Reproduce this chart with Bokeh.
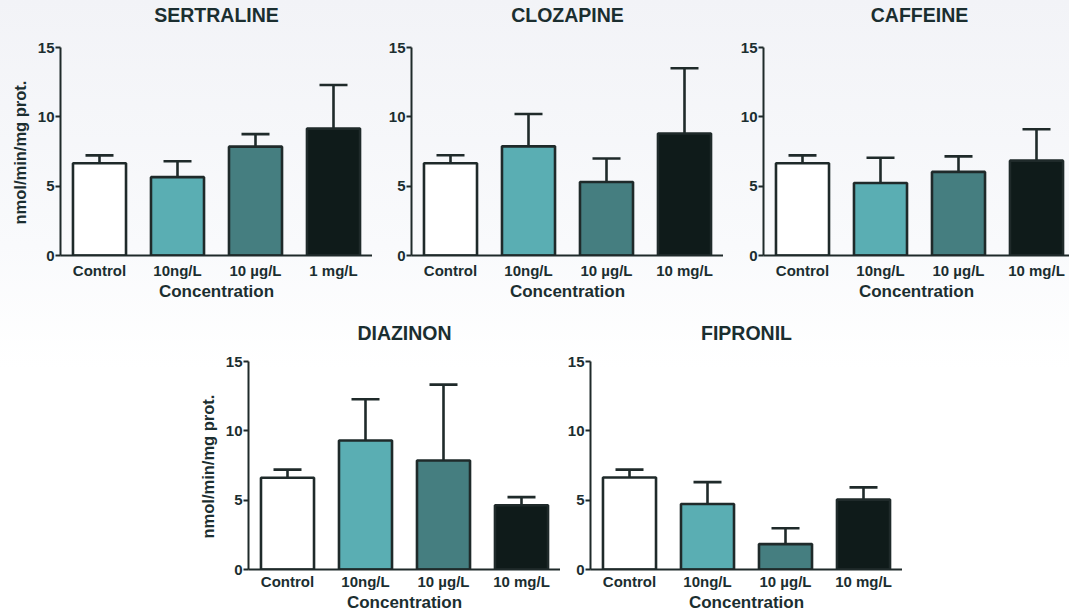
import numpy as np
from bokeh.plotting import figure
from bokeh.layouts import column, row, Spacer
from bokeh.models import (Range1d, FixedTicker, ColumnDataSource, Whisker,
                          TeeHead, Label, Title)
from bokeh.embed import file_html
from bokeh.resources import INLINE

# ---------------- data ----------------
y_label = "nmol/min/mg prot."
x_label = "Concentration"

sertraline_labels = ["Control", "10ng/L", "10 µg/L", "1 mg/L"]
other_labels = ["Control", "10ng/L", "10 µg/L", "10 mg/L"]

sertraline_mean = [6.65, 5.65, 7.85, 9.15]
sertraline_upper = [7.22, 6.80, 8.75, 12.30]
clozapine_mean = [6.65, 7.87, 5.30, 8.80]
clozapine_upper = [7.23, 10.20, 7.00, 13.50]
caffeine_mean = [6.65, 5.23, 6.03, 6.84]
caffeine_upper = [7.22, 7.05, 7.15, 9.10]
diazinon_mean = [6.62, 9.30, 7.86, 4.63]
diazinon_upper = [7.20, 12.28, 13.33, 5.22]
fipronil_mean = [6.63, 4.72, 1.83, 5.04]
fipronil_upper = [7.20, 6.30, 2.98, 5.92]

y_ticks = [0, 5, 10, 15]
bar_colors = ["#ffffff", "#5aaeb3", "#457e80", "#0f1b1a"]

TEXT = "#1b2e30"
LINE = "#1f2a2a"
FONT = "Liberation Sans"
CAT_PX = 78    # pixels per category
AXIS_PX = 208  # pixels from 0 to 15 on the value axis


def panel(title, labels, mean, upper, frame_w, min_left, height,
          min_bottom, show_ylabel, label_standoff, title_gap):
    n = len(labels)
    xs = list(range(1, n + 1))
    frame_h = height - min_bottom
    y_max = y_ticks[-1]
    p = figure(width=min_left + frame_w, height=height,
               x_range=Range1d(0.5, 0.5 + frame_w / CAT_PX),
               y_range=Range1d(0, y_max * frame_h / AXIS_PX),
               output_backend="svg", toolbar_location=None,
               min_border_left=min_left, min_border_right=0,
               min_border_top=0, min_border_bottom=min_bottom,
               background_fill_color=None, border_fill_color=None,
               outline_line_color=None)
    src = ColumnDataSource(dict(x=xs, mean=mean, upper=upper, color=bar_colors[:n]))
    p.vbar(x="x", top="mean", bottom=0, width=0.68, source=src,
           fill_color="color", line_color=LINE, line_width=2.6)
    w = Whisker(base="x", lower="mean", upper="upper", source=src,
                line_color=LINE, line_width=2.6, level="glyph",
                upper_head=TeeHead(size=28, line_color=LINE, line_width=2.6),
                lower_head=None)
    p.add_layout(w)

    # panel title, centred over the categories, floated above the axis top
    p.add_layout(Label(x=(xs[0] + xs[-1]) / 2, y=y_max, y_offset=title_gap,
                       text=title, text_align="center", text_baseline="middle",
                       text_font=FONT, text_font_size="19.5px",
                       text_font_style="bold", text_color=TEXT))

    p.xgrid.visible = False
    p.ygrid.visible = False

    xa = p.xaxis[0]
    xa.ticker = FixedTicker(ticks=xs)
    xa.major_label_overrides = {x: lab for x, lab in zip(xs, labels)}
    xa.major_tick_line_color = None
    xa.major_tick_out = 0
    xa.major_tick_in = 0
    xa.minor_tick_line_color = None
    xa.minor_tick_out = 0
    xa.axis_line_width = 2
    xa.axis_line_color = LINE
    xa.major_label_standoff = label_standoff
    xa.major_label_text_font = FONT
    xa.major_label_text_font_size = "15px"
    xa.major_label_text_font_style = "bold"
    xa.major_label_text_color = TEXT
    xa.axis_label = x_label
    xa.axis_label_standoff = 0
    xa.axis_label_text_font = FONT
    xa.axis_label_text_font_size = "17px"
    xa.axis_label_text_font_style = "bold"
    xa.axis_label_text_color = TEXT

    ya = p.yaxis[0]
    ya.ticker = FixedTicker(ticks=y_ticks)
    ya.bounds = (y_ticks[0], y_max)
    ya.minor_tick_line_color = None
    ya.major_tick_in = 0
    ya.major_tick_out = 5
    ya.major_tick_line_width = 2
    ya.major_tick_line_color = LINE
    ya.axis_line_width = 2
    ya.axis_line_color = LINE
    ya.major_label_standoff = 1
    ya.major_label_text_font = FONT
    ya.major_label_text_font_size = "15px"
    ya.major_label_text_font_style = "bold"
    ya.major_label_text_color = TEXT
    if show_ylabel:
        # value-axis title, centred on the 0-15 span of the axis
        p.add_layout(Title(text=y_label, align="left", offset=31, standoff=12,
                           text_font=FONT, text_font_size="16.5px",
                           text_font_style="bold", text_color=TEXT), "left")
    return p


p1 = panel("SERTRALINE", sertraline_labels, sertraline_mean, sertraline_upper,
           312, 60, 303, 48, True, 6, 33)
p2 = panel("CLOZAPINE", other_labels, clozapine_mean, clozapine_upper,
           312, 39, 303, 48, False, 6, 33)
p3 = panel("CAFFEINE", other_labels, caffeine_mean, caffeine_upper,
           306, 40, 303, 48, False, 6, 33)
p4 = panel("DIAZINON", other_labels, diazinon_mean, diazinon_upper,
           312, 60, 311, 45, True, 3, 29)
p5 = panel("FIPRONIL", other_labels, fipronil_mean, fipronil_upper,
           312, 30, 311, 45, False, 3, 29)

layout = column(row(p1, p2, p3), row(Spacer(width=188, height=311), p4, p5))

html = file_html(layout, INLINE)
style = ("<style>html, body { background: linear-gradient(#f2f3f7 0%, "
         "#f9fafc 40%, #ffffff 60%) !important; }</style>")
html = html.replace("</head>", style + "</head>", 1)
open("out.html", "w").write(html)
